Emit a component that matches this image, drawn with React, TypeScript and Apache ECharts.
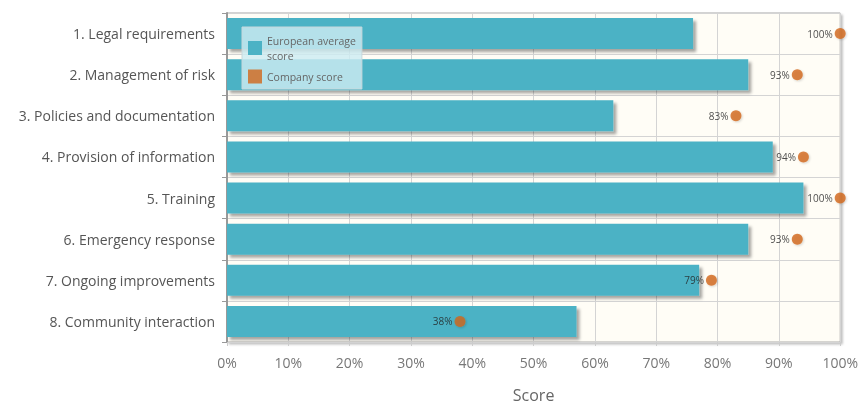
import React, { useEffect, useRef } from "react";
import * as echarts from "echarts";

const categories = [
  "1. Legal requirements",
  "2. Management of risk",
  "3. Policies and documentation",
  "4. Provision of information",
  "5. Training",
  "6. Emergency response",
  "7. Ongoing improvements",
  "8. Community interaction",
];
const europeanAverage = [76, 85, 63, 89, 94, 85, 77, 57];
const companyScore = [100, 93, 83, 94, 100, 93, 79, 38];
const xTicks = [0, 10, 20, 30, 40, 50, 60, 70, 80, 90, 100];

const FONT = "'Open Sans', 'DejaVu Sans', sans-serif";

export default function App() {
  const ref = useRef<HTMLDivElement>(null);
  useEffect(() => {
    if (!ref.current) return;
    const chart = echarts.init(ref.current, undefined, { renderer: "svg" });
    chart.setOption({
      animation: false,
      textStyle: { fontFamily: FONT },
      grid: {
        left: 227,
        right: 18,
        top: 13,
        bottom: 66,
        show: true,
        backgroundColor: "#fffdf6",
        borderColor: "#aaa",
        borderWidth: 1,
        shadowColor: "rgba(0,0,0,0.25)",
        shadowBlur: 2,
        shadowOffsetX: 2,
        shadowOffsetY: 2,
      },
      legend: {
        orient: "vertical",
        left: 242,
        top: 27,
        padding: [6, 6, 5, 6],
        itemWidth: 14,
        itemHeight: 14,
        itemGap: 6,
        icon: "rect",
        backgroundColor: "rgba(205,236,242,0.82)",
        borderColor: "#c8d8dc",
        borderWidth: 1,
        data: ["European average score", "Company score"],
        formatter: (name: string) =>
          name === "European average score" ? "European average\nscore" : name,
        textStyle: { fontSize: 10.5, color: "#666", lineHeight: 15, fontFamily: FONT },
      },
      xAxis: {
        type: "value",
        min: 0,
        max: 100,
        interval: 10,
        name: "Score",
        nameLocation: "middle",
        nameGap: 45,
        nameTextStyle: { fontSize: 16, color: "#666", fontFamily: FONT },
        axisLine: { show: false },
        axisTick: { show: true, length: 4, lineStyle: { color: "#ccc" } },
        axisLabel: {
          color: "#777",
          fontSize: 14,
          margin: 13,
          formatter: (v: number) => (xTicks.includes(v) ? v + "%" : ""),
        },
        splitLine: { show: true, lineStyle: { color: "#d4d4d4", width: 1 } },
      },
      yAxis: {
        type: "category",
        data: categories,
        inverse: true,
        axisLine: { show: true, lineStyle: { color: "#999", width: 2 } },
        axisTick: { show: true, length: 5, lineStyle: { color: "#999" } },
        axisLabel: { color: "#555", fontSize: 14, margin: 12, fontFamily: FONT },
        splitLine: { show: true, lineStyle: { color: "#d4d4d4", width: 1 } },
      },
      series: [
        {
          name: "European average score",
          type: "bar",
          data: europeanAverage,
          barWidth: 31,
          itemStyle: {
            color: "#4bb2c5",
            shadowColor: "rgba(0,0,0,0.35)",
            shadowBlur: 3,
            shadowOffsetX: 3,
            shadowOffsetY: 3,
          },
          z: 2,
        },
        {
          name: "Company score",
          type: "scatter",
          data: companyScore.map((v, i) => [v, i]),
          symbol: "circle",
          symbolSize: 11,
          itemStyle: {
            color: "#d2661a",
            shadowColor: "rgba(0,0,0,0.2)",
            shadowBlur: 2,
            shadowOffsetX: 1,
            shadowOffsetY: 1,
          },
          label: {
            show: true,
            position: "left",
            distance: 2,
            color: "#222",
            fontSize: 10,
            fontFamily: FONT,
            formatter: (p: any) => p.value[0] + "%",
          },
          z: 5,
        },
      ],
    });
    return () => chart.dispose();
  }, []);
  return (
    <div
      ref={ref}
      style={{ position: "fixed", left: 0, top: 0, width: 861, height: 408 }}
    />
  );
}
